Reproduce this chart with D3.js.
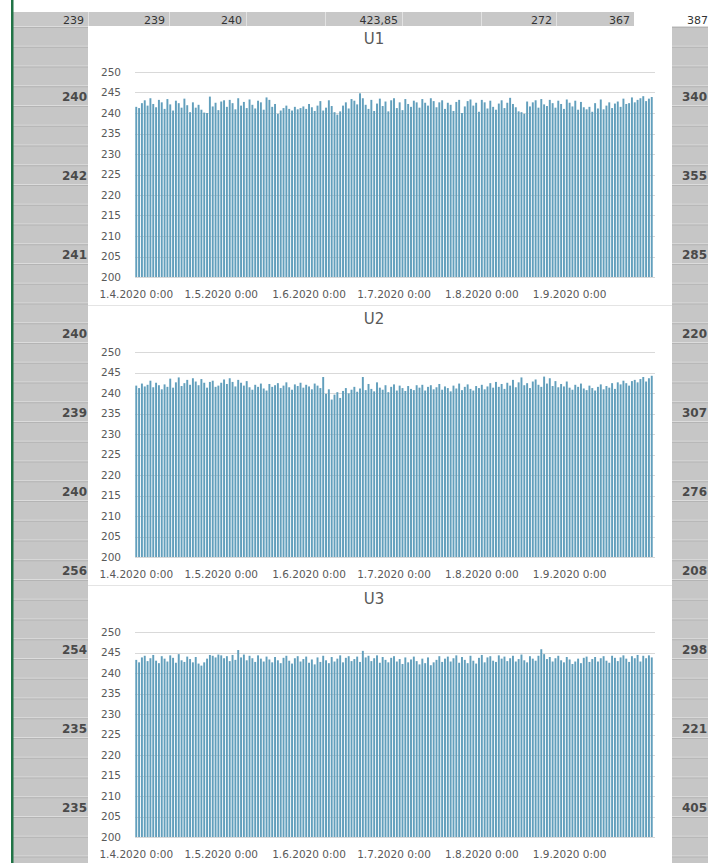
<!DOCTYPE html>
<html><head><meta charset="utf-8">
<script src="https://cdn.jsdelivr.net/npm/d3@7"></script>
<style>html,body{margin:0;padding:0;background:#fff;overflow:hidden}</style>
</head><body>
<svg id="c" width="708" height="863"></svg>
<script>
// ---------- data ----------
const seriesNames = ["U1", "U2", "U3"];
const startDate = "2020-04-01", endDate = "2020-10-01"; // daily categories 1.4.2020 .. 30.9.2020
const yTicks = [200, 205, 210, 215, 220, 225, 230, 235, 240, 245, 250];
const xTickLabels = ["1.4.2020 0:00", "1.5.2020 0:00", "1.6.2020 0:00", "1.7.2020 0:00", "1.8.2020 0:00", "1.9.2020 0:00"];
const xTickDates = ["2020-04-01", "2020-05-01", "2020-06-01", "2020-07-01", "2020-08-01", "2020-09-01"];

const u1 = [241.5,241.2,242.4,243.1,241.8,243.6,242.2,241.4,243.2,242.6,
241.0,243.4,242.1,240.6,243.0,242.4,241.3,243.5,241.9,240.2,
242.6,241.3,242.0,240.8,240.1,240.0,244.0,241.6,242.5,240.7,
242.8,243.1,241.5,243.2,242.4,240.9,243.6,241.8,242.7,241.2,
243.3,242.0,241.1,243.0,242.6,240.8,243.8,243.2,241.5,242.2,
239.8,240.6,241.2,241.8,241.0,240.6,241.5,240.9,241.2,241.6,
241.0,242.2,241.4,240.5,241.8,242.9,240.6,241.3,243.1,241.7,
240.2,239.6,240.4,241.8,242.6,241.1,243.4,243.0,242.1,244.8,
243.6,242.0,241.0,243.2,240.5,242.3,243.5,241.7,242.8,240.4,
243.1,243.6,241.2,242.6,240.7,243.4,242.2,241.5,243.0,242.6,
241.3,243.4,242.5,241.8,243.6,242.9,241.4,242.6,243.1,241.0,
242.5,242.0,240.5,242.7,243.2,240.0,241.6,242.9,243.3,241.8,
242.5,240.3,243.2,242.6,241.1,243.0,241.5,240.8,242.3,243.1,
241.2,242.5,243.7,242.2,241.4,240.4,240.2,239.8,242.8,241.6,
242.6,243.1,241.3,243.4,242.1,241.7,243.2,242.4,241.3,243.0,
242.2,241.0,243.3,242.5,241.6,243.0,240.8,242.7,241.4,240.9,
241.5,240.3,242.4,241.1,243.3,240.9,241.8,242.6,241.2,242.3,
242.8,241.5,243.5,242.2,242.4,243.8,242.6,243.2,243.6,244.1,
242.9,243.5,243.9];
const u2 = [241.8,241.2,242.3,241.6,242.0,243.0,241.4,242.5,241.9,240.9,
242.1,241.5,243.5,241.3,242.6,243.8,241.7,242.4,243.2,242.0,
243.6,242.8,241.9,243.4,242.5,241.3,242.7,243.0,241.5,241.8,
242.5,243.3,242.2,243.6,242.7,241.6,243.2,242.5,241.8,242.9,
241.4,240.8,242.0,241.5,242.3,241.1,240.6,242.2,241.5,241.9,
242.4,241.2,241.8,242.6,241.4,240.8,242.1,241.7,242.5,241.3,
242.0,241.6,240.9,242.3,241.8,241.2,243.9,239.8,240.9,238.4,
239.6,240.2,238.8,240.5,241.2,239.9,240.8,241.5,240.3,241.1,
243.9,240.7,242.2,241.0,240.4,242.6,241.3,240.8,241.9,240.2,
241.5,242.1,240.6,241.8,241.2,240.5,241.7,241.0,240.7,241.9,
241.3,242.0,240.6,241.5,241.9,240.9,241.4,242.2,240.8,241.6,
241.2,240.4,241.8,241.1,242.3,240.7,241.5,242.1,241.0,240.6,
241.7,241.2,242.0,240.9,241.6,242.4,241.3,242.7,241.5,242.2,
241.0,242.5,241.8,243.2,241.4,242.6,243.8,241.9,242.4,241.2,
242.8,243.3,242.0,241.5,244.0,242.3,243.6,241.7,242.9,241.4,
242.2,241.6,242.8,241.3,240.8,242.0,241.5,242.3,241.1,240.7,
241.8,241.2,240.6,241.5,242.1,240.9,241.7,241.3,242.4,241.0,
242.6,242.1,243.0,242.4,241.8,242.9,243.2,242.6,243.4,243.9,
242.8,243.6,244.2];
const u3 = [243.2,242.6,243.8,244.2,242.9,243.6,244.4,243.0,242.4,244.1,
243.5,242.8,244.3,243.7,242.5,244.6,243.1,242.7,244.0,243.4,
242.6,243.9,242.3,241.8,242.6,243.5,244.4,244.2,243.8,244.5,
244.3,243.6,244.1,242.9,244.4,243.2,245.6,243.8,244.5,243.1,
244.2,243.6,242.7,244.3,243.5,242.8,244.0,243.3,242.6,243.9,
243.1,242.4,243.7,244.2,243.0,242.3,243.6,244.1,242.8,243.4,
244.0,242.5,243.3,242.1,243.8,242.7,244.2,243.1,242.4,243.9,
242.8,243.5,244.3,242.6,243.7,244.1,242.9,243.4,244.0,242.7,
245.4,243.8,244.2,242.9,243.6,244.3,242.5,243.9,243.2,242.6,
243.7,244.1,242.8,243.4,242.2,243.8,242.6,243.3,244.0,242.9,
242.1,243.5,242.4,243.8,241.9,242.6,243.2,244.1,242.7,243.5,
244.0,242.8,243.6,244.3,242.5,243.9,243.2,242.4,244.2,243.0,
242.3,243.7,244.4,242.6,243.8,244.1,243.0,242.7,244.3,243.5,
244.0,242.9,243.6,244.2,242.8,243.4,244.5,243.1,242.6,244.1,
243.5,243.0,244.2,245.8,244.6,243.4,243.9,242.8,243.6,244.2,
243.1,242.6,243.9,243.3,242.2,242.8,243.5,242.4,243.7,244.0,
242.7,243.4,243.9,242.8,243.6,244.1,243.0,242.5,244.2,243.7,
242.9,243.8,244.3,243.5,242.7,244.1,243.6,244.4,242.8,244.2,
243.6,244.3,243.8];
const seriesValues = [u1, u2, u3];

// spreadsheet background cell texts
const topRowTexts = ["239", "239", "240", "", "423,85", "", "272", "367", "387"];
const leftColTexts = ["240", "242", "241", "240", "239", "240", "256", "254", "235", "235"];
const rightColTexts = ["340", "355", "285", "220", "307", "276", "208", "298", "221", "405"];

// ---------- drawing ----------
const svg = d3.select("#c");
const W = 708, H = 863;
const parse = d3.timeParse("%Y-%m-%d");
const days = d3.timeDay.range(parse(startDate), parse(endDate));

// spreadsheet background
const rowH = 19.75, gridTop = 26;
svg.append("rect").attr("x", 0).attr("y", 0).attr("width", W).attr("height", H).attr("fill", "#fff");
svg.append("rect").attr("x", 13).attr("y", gridTop).attr("width", 77).attr("height", H).attr("fill", "#c6c6c6");
svg.append("rect").attr("x", 672).attr("y", gridTop).attr("width", 36).attr("height", H).attr("fill", "#c6c6c6");
const rows = d3.range(0, 45);
[[13, 90], [672, 708]].forEach(([a, b]) => {
  svg.append("g").selectAll("line").data(rows).join("line")
    .attr("x1", a).attr("x2", b)
    .attr("y1", d => gridTop + d * rowH + 0.5).attr("y2", d => gridTop + d * rowH + 0.5)
    .attr("stroke", "#dcdcdc");
  svg.append("g").selectAll("line").data(rows).join("line")
    .attr("x1", a).attr("x2", b)
    .attr("y1", d => gridTop + d * rowH + 1.5).attr("y2", d => gridTop + d * rowH + 1.5)
    .attr("stroke", "#b4b4b4");
});
// top row
svg.append("rect").attr("x", 13).attr("y", 12).attr("width", 621).attr("height", 14).attr("fill", "#c8c8c8");
const colEdges = [13, 88, 169, 246, 325, 402, 481, 556, 634, 712];
svg.append("g").selectAll("line").data(colEdges.slice(1, 8)).join("line")
  .attr("x1", d => d + 0.5).attr("x2", d => d + 0.5).attr("y1", 12).attr("y2", 26)
  .attr("stroke", "#e2e2e2");
svg.append("g").selectAll("text").data(topRowTexts).join("text")
  .attr("x", (d, i) => colEdges[i + 1] - 4).attr("y", 23.5)
  .attr("text-anchor", "end").attr("font-family", "DejaVu Sans").attr("font-size", 11)
  .attr("fill", "#333").text(d => d);
// side column numbers
svg.append("g").selectAll("text").data(leftColTexts).join("text")
  .attr("x", 87).attr("y", (d, i) => gridTop + (4 * i + 4) * rowH - 4)
  .attr("text-anchor", "end").attr("font-family", "DejaVu Sans").attr("font-size", 12)
  .attr("font-weight", "bold").attr("fill", "#4a4a4a").text(d => d);
svg.append("g").selectAll("text").data(rightColTexts).join("text")
  .attr("x", 682).attr("y", (d, i) => gridTop + (4 * i + 4) * rowH - 4)
  .attr("text-anchor", "start").attr("font-family", "DejaVu Sans").attr("font-size", 12)
  .attr("font-weight", "bold").attr("fill", "#4a4a4a").text(d => d);
// green selection edge
svg.append("rect").attr("x", 11).attr("y", 0).attr("width", 2.5).attr("height", H).attr("fill", "#217346");

// charts
const chartH = 280;
const x = d3.scaleBand().domain(days).range([135, 653]).paddingInner(0.32).paddingOuter(0.1);

seriesNames.forEach((name, k) => {
  const top = gridTop + k * chartH;
  const g = svg.append("g");
  g.append("rect").attr("x", 88).attr("y", top).attr("width", 584).attr("height", chartH - 1)
    .attr("fill", "#fff");
  g.append("line").attr("x1", 88).attr("x2", 672).attr("y1", top + chartH - 0.5).attr("y2", top + chartH - 0.5)
    .attr("stroke", "#e4e4e4");
  const y = d3.scaleLinear().domain([200, 250]).range([top + 251, top + 46]);

  g.append("g").selectAll("line").data(yTicks).join("line")
    .attr("x1", 135).attr("x2", 655)
    .attr("y1", d => Math.round(y(d)) + 0.5).attr("y2", d => Math.round(y(d)) + 0.5)
    .attr("stroke", "#d9d9d9");

  g.append("g").selectAll("rect").data(seriesValues[k]).join("rect")
    .attr("x", (d, i) => x(days[i]))
    .attr("width", x.bandwidth())
    .attr("y", d => y(d))
    .attr("height", d => y(200) - y(d))
    .attr("fill", "#629fbc");

  g.append("line").attr("x1", 135).attr("x2", 655).attr("y1", y(200) + 0.5).attr("y2", y(200) + 0.5)
    .attr("stroke", "#d9d9d9");

  g.append("g").selectAll("text").data(yTicks).join("text")
    .attr("x", 121).attr("y", d => y(d)).attr("dy", "0.35em")
    .attr("text-anchor", "end").attr("font-family", "DejaVu Sans").attr("font-size", 10.5)
    .attr("fill", "#595959").text(d => d);

  g.append("g").selectAll("text").data(xTickLabels).join("text")
    .attr("x", (d, i) => x(parse(xTickDates[i])) + x.bandwidth() / 2)
    .attr("y", y(200) + 17).attr("dy", "0.35em")
    .attr("text-anchor", "middle").attr("font-family", "DejaVu Sans").attr("font-size", 10.5)
    .attr("fill", "#595959").text(d => d);

  g.append("text").attr("x", 374).attr("y", top + 13).attr("dy", "0.35em")
    .attr("text-anchor", "middle").attr("font-family", "DejaVu Sans").attr("font-size", 15)
    .attr("fill", "#595959").text(name);
});
</script>
</body></html>
